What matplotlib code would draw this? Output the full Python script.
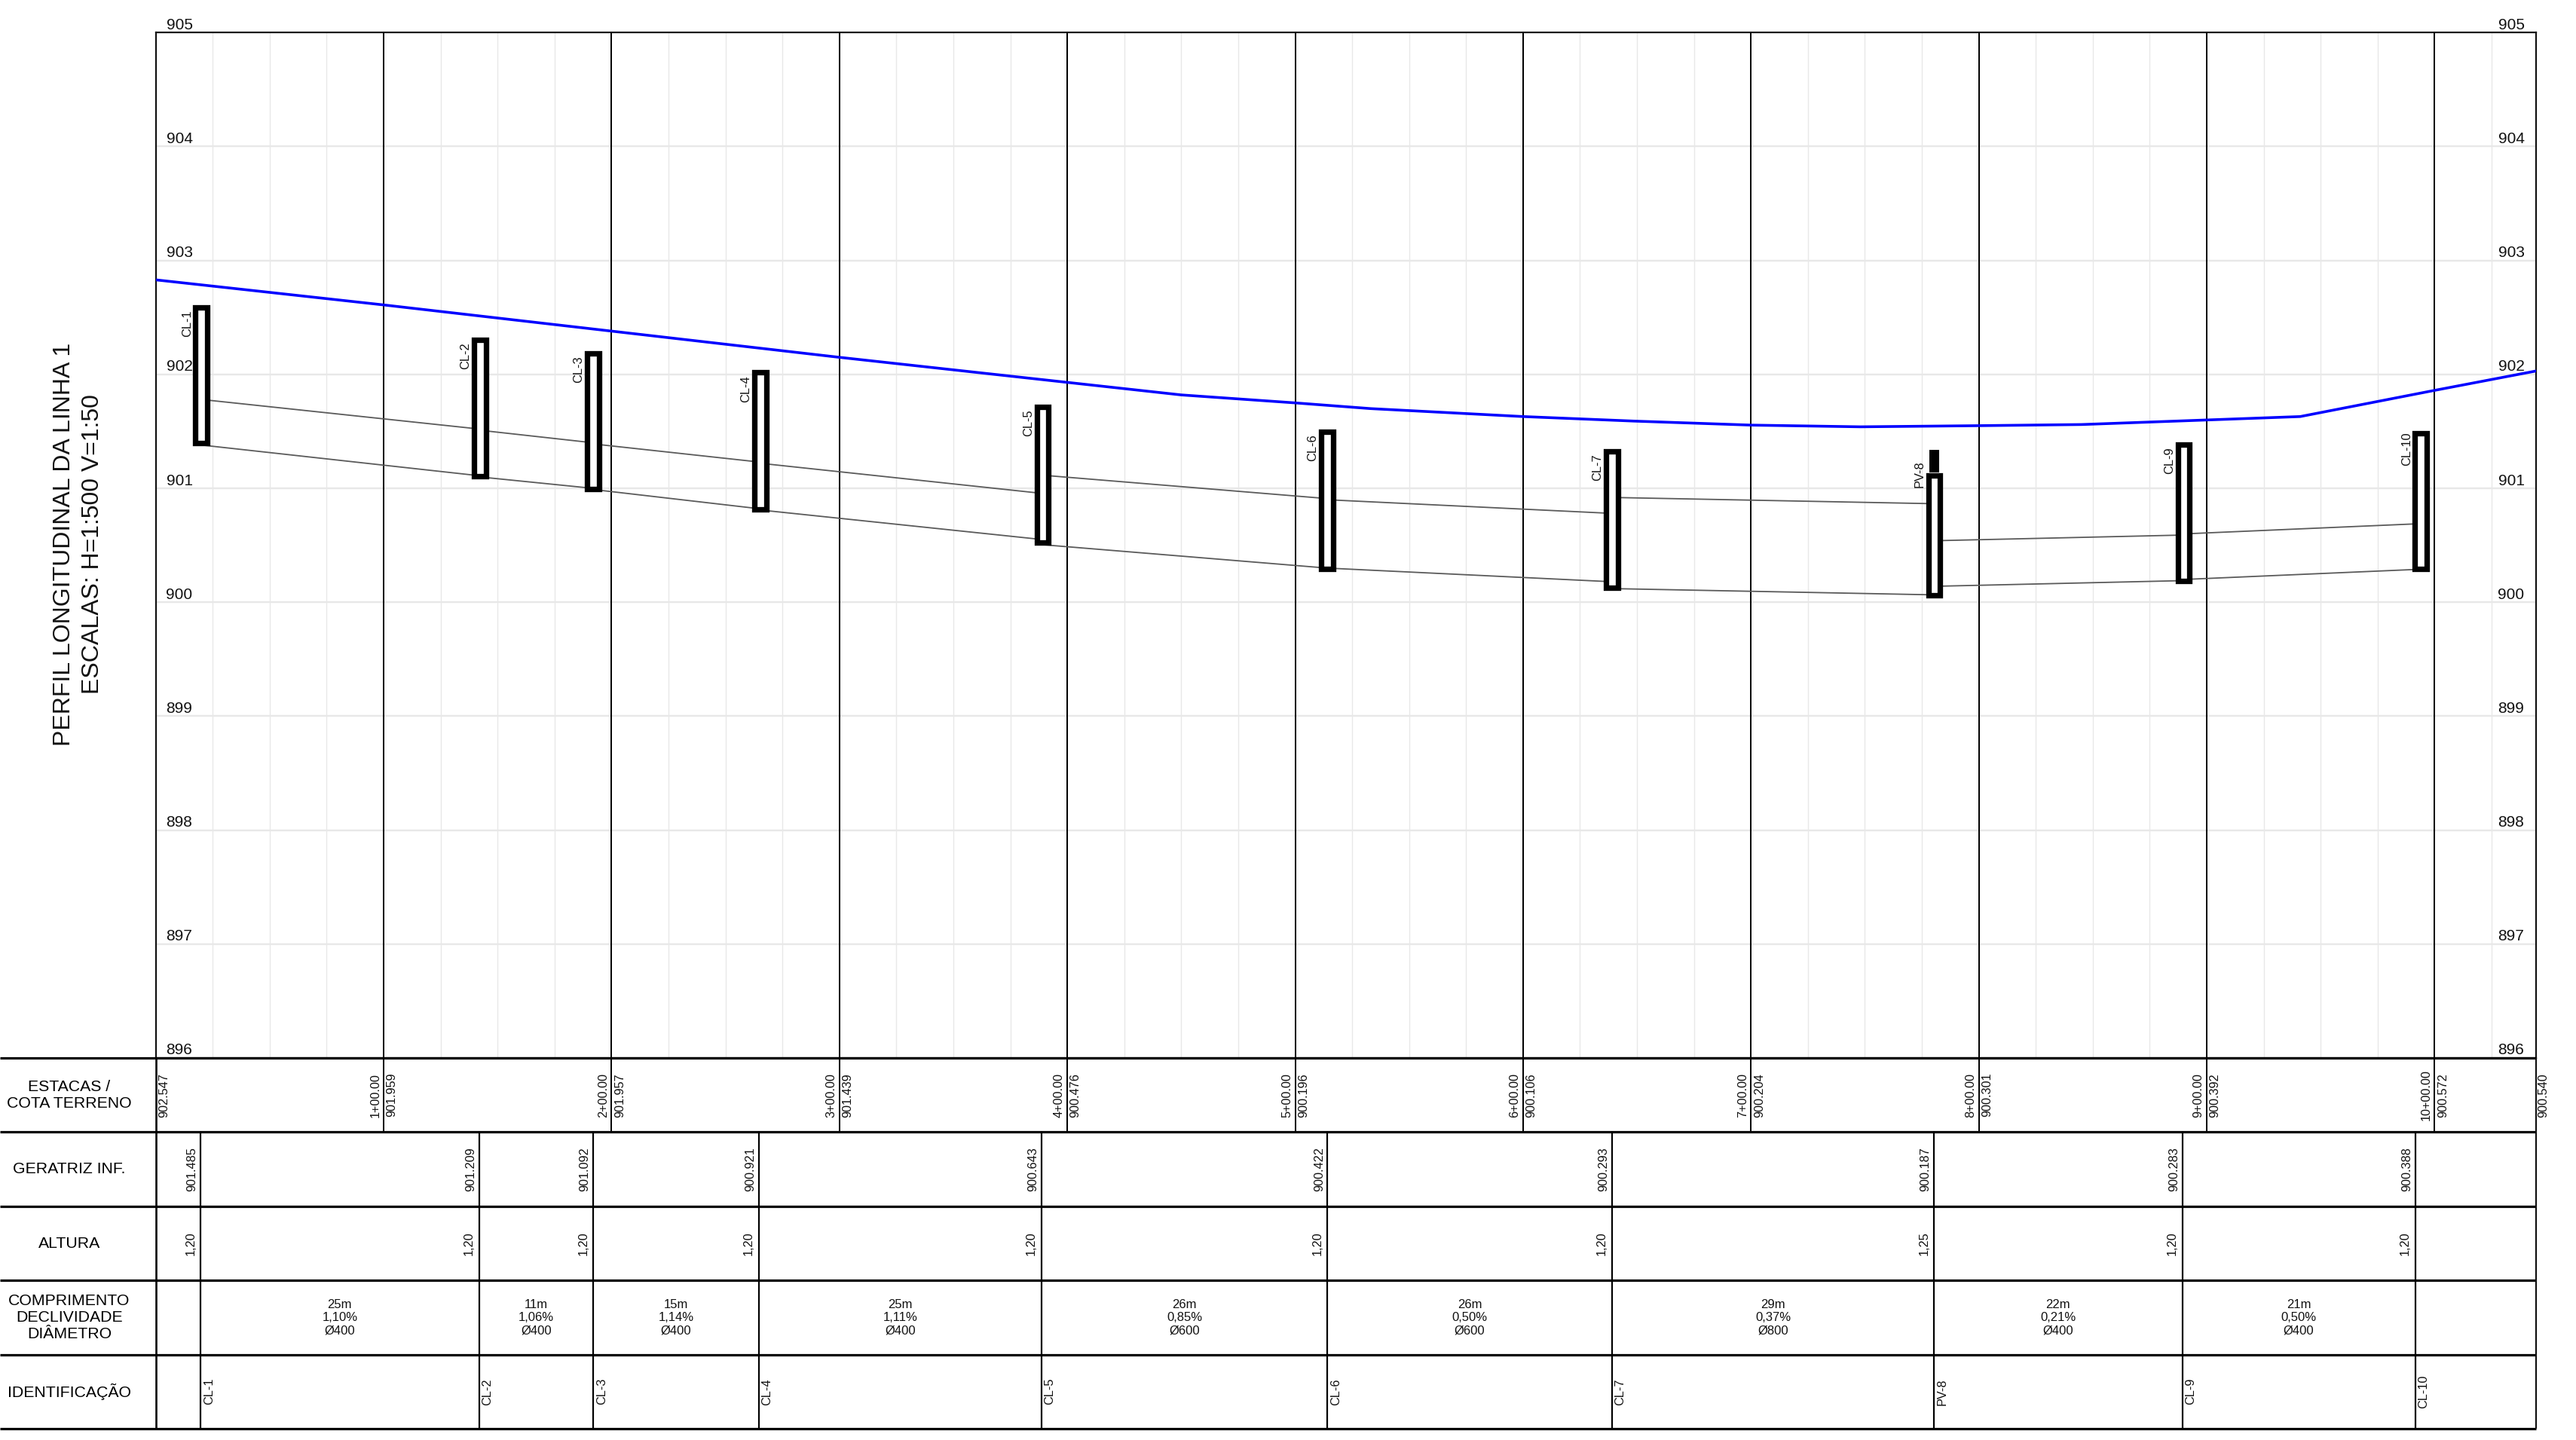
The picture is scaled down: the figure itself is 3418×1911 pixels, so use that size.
import matplotlib
matplotlib.use('Agg')
import matplotlib.pyplot as plt
from matplotlib.patches import Rectangle

plt.rcParams['font.family'] = ['Liberation Sans', 'DejaVu Sans']

W, H = 3418, 1911
DPI = 100
PX = 72 / DPI  # one image pixel in points

# frame position in pixels
LEFT, RIGHT = 206.6, 3365
TOP, BOTTOM, TABLE_BOTTOM = 43.3, 1404, 1896
X_END = 208.9

# terrain line (metres along the line, elevation)
terrain_x = [0, 20, 40, 60, 80, 90, 100, 106.6, 120, 129.8, 140, 149.6, 160, 169, 180, 188.2, 200, 208.9]
terrain_y = [902.83, 902.61, 902.38, 902.15, 901.93, 901.82, 901.75, 901.70, 901.63, 901.59,
             901.555, 901.54, 901.55, 901.56, 901.60, 901.63, 901.86, 902.03]

# manholes
names = ['CL-1', 'CL-2', 'CL-3', 'CL-4', 'CL-5', 'CL-6', 'CL-7', 'PV-8', 'CL-9', 'CL-10']
mh_x = [4.01, 28.45, 38.37, 53.05, 77.85, 102.8, 127.8, 156.08, 177.97, 198.8]
mh_top = [902.61, 902.33, 902.21, 902.04, 901.74, 901.52, 901.35, 901.14, 901.41, 901.51]
mh_bottom = [901.37, 901.08, 900.97, 900.79, 900.50, 900.27, 900.10, 900.04, 900.16, 900.27]
stub_top = 901.34

# pipes between manholes: crown and invert at each end
crown_start = [901.78, 901.51, 901.39, 901.22, 901.115, 900.90, 900.92, 900.54, 900.60]
crown_end = [901.52, 901.40, 901.23, 900.955, 900.91, 900.78, 900.865, 900.59, 900.69]
invert_start = [901.38, 901.10, 900.99, 900.81, 900.505, 900.30, 900.12, 900.14, 900.20]
invert_end = [901.11, 901.00, 900.82, 900.55, 900.30, 900.18, 900.065, 900.19, 900.29]

# table columns
station_x = [20, 40, 60, 80, 100, 120, 140, 160, 180, 200]
station_labels = ['1+00.00', '2+00.00', '3+00.00', '4+00.00', '5+00.00',
                  '6+00.00', '7+00.00', '8+00.00', '9+00.00', '10+00.00']
terrain_labels = ['901.959', '901.957', '901.439', '900.476', '900.196',
                  '900.106', '900.204', '900.301', '900.392', '900.572']
terrain_first = '902.547'
terrain_last = '900.540'
table_x = [3.94, 28.37, 38.4, 52.93, 77.73, 102.83, 127.8, 156.06, 177.86, 198.3]
geratriz = ['901.485', '901.209', '901.092', '900.921', '900.643',
            '900.422', '900.293', '900.187', '900.283', '900.388']
altura = ['1,20', '1,20', '1,20', '1,20', '1,20', '1,20', '1,20', '1,25', '1,20', '1,20']
comprimento = ['25m', '11m', '15m', '25m', '26m', '26m', '29m', '22m', '21m']
declividade = ['1,10%', '1,06%', '1,14%', '1,11%', '0,85%', '0,50%', '0,37%', '0,21%', '0,50%']
diametro = ['Ø400', 'Ø400', 'Ø400', 'Ø400', 'Ø600', 'Ø600', 'Ø800', 'Ø400', 'Ø400']
row_titles = ['ESTACAS /\nCOTA TERRENO', 'GERATRIZ INF.', 'ALTURA',
              'COMPRIMENTO\nDECLIVIDADE\nDIÂMETRO', 'IDENTIFICAÇÃO']

fig = plt.figure(figsize=(W / DPI, H / DPI), dpi=DPI, facecolor='white')
ax = fig.add_axes([LEFT / W, 1 - BOTTOM / H, (RIGHT - LEFT) / W, (BOTTOM - TOP) / H])
ax.set_xlim(0, X_END)
ax.set_ylim(896, 905)
ax.set_xticks([])
ax.set_yticks([])
for s in ax.spines.values():
    s.set_linewidth(2.2 * PX)
    s.set_color('#111111')

# grid
for x in range(5, 206, 5):
    if x % 20:
        ax.axvline(x, color='#e8e8e8', lw=1.4 * PX, zorder=1)
for y in range(897, 905):
    ax.axhline(y, color='#e8e8e8', lw=2.4 * PX, zorder=1)
for x in station_x:
    ax.axvline(x, color='#000000', lw=2 * PX, zorder=2)

# level labels on both sides
for lev in range(896, 906):
    for x0, dx in ((0, 31.4), (X_END, -33)):
        ax.annotate(str(lev), (x0, lev), xytext=(dx * PX, 10 * PX), textcoords='offset points',
                    ha='center', va='center', fontsize=15, color='#111111', annotation_clip=False)

ax.plot(terrain_x, terrain_y, color='#0000ff', lw=3.6 * PX, zorder=4, solid_joinstyle='round')

for i in range(len(crown_start)):
    ax.plot([mh_x[i], mh_x[i + 1]], [crown_start[i], crown_end[i]], color='#5a5a5a', lw=1.8 * PX, zorder=3)
    ax.plot([mh_x[i], mh_x[i + 1]], [invert_start[i], invert_end[i]], color='#5a5a5a', lw=1.8 * PX, zorder=3)

half_w = 0.519
inset = 0.024
for name, x, t, b in zip(names, mh_x, mh_top, mh_bottom):
    ax.add_patch(Rectangle((x - half_w, b + inset), 2 * half_w, t - b - 2 * inset, facecolor='white',
                           edgecolor='black', lw=7.3 * PX, joinstyle='miter', zorder=5))
    if name == 'PV-8':
        ax.add_patch(Rectangle((x - 0.43, t), 0.86, stub_top - t, facecolor='black', edgecolor='none', zorder=5))
        off = -33
        top = stub_top
    else:
        off = -25
        top = t
    ax.annotate(name, (x, top), xytext=(-19 * PX, off * PX), textcoords='offset points', rotation=90,
                ha='center', va='center', fontsize=11.8, color='#111111', zorder=6)

# table below, same horizontal scale, extended to the left edge of the image
x_per_px = X_END / (RIGHT - LEFT)
tb = fig.add_axes([0, 1 - TABLE_BOTTOM / H, RIGHT / W, (TABLE_BOTTOM - BOTTOM) / H])
tb.set_xlim(-LEFT * x_per_px, X_END)
tb.set_ylim(5, 0)
tb.axis('off')
x_left = -LEFT * x_per_px

for r in range(6):
    tb.plot([x_left, X_END], [r, r], color='#000000', lw=3.2 * PX, clip_on=False, solid_capstyle='butt')
tb.plot([0, 0], [0, 5], color='#000000', lw=2.6 * PX, solid_capstyle='butt')
tb.plot([X_END, X_END], [0, 5], color='#111111', lw=2.2 * PX, clip_on=False, solid_capstyle='butt')

header_x = (92 - LEFT) * x_per_px
for r, title in enumerate(row_titles):
    tb.text(header_x, r + 0.5, title, ha='center', va='center', fontsize=15.3, color='#000000', linespacing=1.2)

small = dict(rotation=90, ha='center', va='center', fontsize=11.7, color='#111111')
d11 = 11 * x_per_px

tb.text(d11, 0.5, terrain_first, **small)
tb.text(X_END + d11 * 0.9, 0.5, terrain_last, **small)
for x, st, val in zip(station_x, station_labels, terrain_labels):
    tb.plot([x, x], [0, 1], color='#000000', lw=2 * PX, solid_capstyle='butt')
    tb.text(x - d11, 0.5, st, **small)
    tb.text(x + d11, 0.5, val, **small)

for x, g, a, n in zip(table_x, geratriz, altura, names):
    tb.plot([x, x], [1, 5], color='#000000', lw=2.2 * PX, solid_capstyle='butt')
    tb.text(x - d11, 1.5, g, **small)
    tb.text(x - d11 * 1.2, 2.5, a, **small)
    tb.text(x + d11, 4.5, n, **small)

for i in range(len(comprimento)):
    mid = (table_x[i] + table_x[i + 1]) / 2
    txt = comprimento[i] + '\n' + declividade[i] + '\n' + diametro[i]
    tb.text(mid, 3.5, txt, ha='center', va='center', fontsize=12, color='#111111', linespacing=1.2)

fig.text(85 / W, 1 - 722.5 / H, 'PERFIL LONGITUDINAL DA LINHA 1', rotation=90, ha='center', va='center',
         fontsize=23, color='#111111')
fig.text(123 / W, 1 - 722.5 / H, 'ESCALAS: H=1:500 V=1:50', rotation=90, ha='center', va='center',
         fontsize=23, color='#111111')

fig.savefig('out.png', dpi=DPI, facecolor='white')
